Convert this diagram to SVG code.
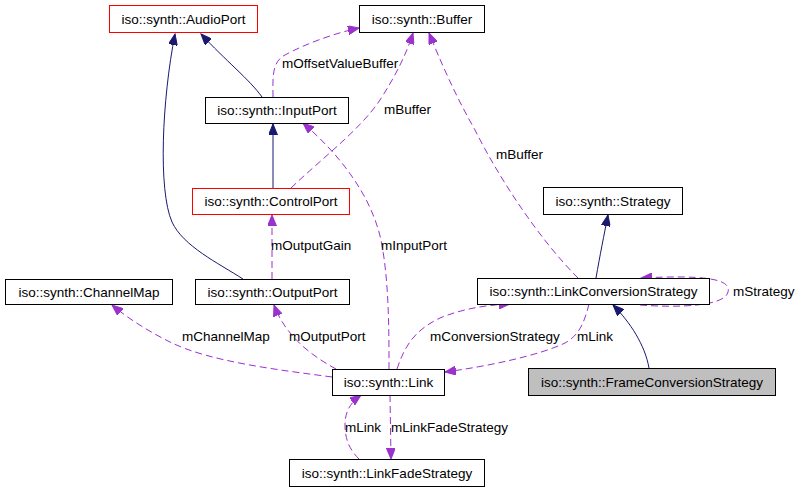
<svg xmlns="http://www.w3.org/2000/svg" width="801" height="491" viewBox="0 0 801 491">
<style>
text{font-family:"Liberation Sans",Arial,sans-serif;font-size:13.5px;fill:#000}
.n text{text-anchor:middle}
.box{fill:#fff;stroke:#000;stroke-width:1}
.red{stroke:#ff0000}
.gray{fill:#bfbfbf}
.inh{fill:none;stroke:#191970;stroke-width:1}
.use{fill:none;stroke:#9a32cd;stroke-width:1;stroke-dasharray:7,4}
</style>
<defs>
<marker id="an" markerUnits="userSpaceOnUse" markerWidth="12" markerHeight="9" refX="11" refY="4.5" orient="auto" viewBox="0 0 12 9">
<path d="M0,0 L11,4.5 L0,9 z" fill="#191970" stroke="#191970"/>
</marker>
<marker id="ap" markerUnits="userSpaceOnUse" markerWidth="12" markerHeight="9" refX="11" refY="4.5" orient="auto" viewBox="0 0 12 9">
<path d="M0,0 L11,4.5 L0,9 z" fill="#9a32cd" stroke="#9a32cd"/>
</marker>
</defs>
<rect width="801" height="491" fill="#fff"/>
<g id="edges">
<path class="inh" d="M262,97 C250,80 225,60 201,34" marker-end="url(#an)"/>
<path class="inh" d="M243,279 C218,263 183,246 172,222 C158,190 162,100 175,34" marker-end="url(#an)"/>
<path class="inh" d="M273,188 L273,124" marker-end="url(#an)"/>
<path class="inh" d="M596,278 C600,255 604,235 608,215" marker-end="url(#an)"/>
<path class="inh" d="M649,368 C645,345 630,322 613,305" marker-end="url(#an)"/>
<path class="use" d="M273,97 C273,80 271,62 285,55 C305,44 335,33 359,28" marker-end="url(#ap)"/>
<path class="use" d="M291,188 C320,160 360,130 380,100 C396,75 406,55 413,33" marker-end="url(#ap)"/>
<path class="use" d="M578,278 C540,240 500,180 475,130 C455,95 440,60 429,33" marker-end="url(#ap)"/>
<path class="use" d="M389,369 C389,330 389,280 381,240 C371,195 340,155 303,123" marker-end="url(#ap)"/>
<path class="use" d="M272,279 L272,215" marker-end="url(#ap)"/>
<path class="use" d="M336,369 C310,355 285,335 274,305" marker-end="url(#ap)"/>
<path class="use" d="M332,377 C280,370 210,362 170,342 C150,332 130,320 112,305" marker-end="url(#ap)"/>
<path class="use" d="M397,369 C405,345 415,330 440,318 C462,309 485,305 510,304" marker-end="url(#ap)"/>
<path class="use" d="M589,304 C585,320 580,335 565,343 C540,355 490,366 445,372" marker-end="url(#ap)"/>
<path class="use" d="M640,305 C680,308 725,306 728,292 C732,278 700,275 641,278" marker-end="url(#ap)"/>
<path class="use" d="M390,395 L391,459" marker-end="url(#ap)"/>
<path class="use" d="M359,459 C350,450 345,440 345,425 C345,412 350,403 361,395" marker-end="url(#ap)"/>
<text x="282" y="68">mOffsetValueBuffer</text>
<text x="384" y="114">mBuffer</text>
<text x="496" y="159">mBuffer</text>
<text x="381" y="250">mInputPort</text>
<text x="271" y="250">mOutputGain</text>
<text x="182" y="341">mChannelMap</text>
<text x="289" y="341">mOutputPort</text>
<text x="430" y="341">mConversionStrategy</text>
<text x="577" y="341">mLink</text>
<text x="733" y="296">mStrategy</text>
<text x="345" y="432">mLink</text>
<text x="391" y="432">mLinkFadeStrategy</text>
</g>
<g id="AudioPort" class="n"><rect class="box red" x="109.5" y="5.5" width="148" height="27"/><text x="183.5" y="23.5">iso::synth::AudioPort</text></g>
<g id="Buffer" class="n"><rect class="box" x="359.5" y="5.5" width="125" height="27"/><text x="422" y="23.5">iso::synth::Buffer</text></g>
<g id="InputPort" class="n"><rect class="box" x="205.5" y="97.5" width="143" height="26"/><text x="277" y="115">iso::synth::InputPort</text></g>
<g id="ControlPort" class="n"><rect class="box red" x="192.5" y="188.5" width="157" height="26"/><text x="271" y="206">iso::synth::ControlPort</text></g>
<g id="OutputPort" class="n"><rect class="box" x="195.5" y="279.5" width="154" height="25"/><text x="272.5" y="296.5">iso::synth::OutputPort</text></g>
<g id="ChannelMap" class="n"><rect class="box" x="5.5" y="279.5" width="167" height="25"/><text x="89" y="296.5">iso::synth::ChannelMap</text></g>
<g id="Strategy" class="n"><rect class="box" x="543.5" y="187.5" width="139" height="27"/><text x="613" y="205.5">iso::synth::Strategy</text></g>
<g id="LinkConversionStrategy" class="n"><rect class="box" x="477.5" y="278.5" width="232" height="26"/><text x="593.5" y="296">iso::synth::LinkConversionStrategy</text></g>
<g id="FrameConversionStrategy" class="n"><rect class="box gray" x="528.5" y="368.5" width="247" height="27"/><text x="652" y="386.5">iso::synth::FrameConversionStrategy</text></g>
<g id="Link" class="n"><rect class="box" x="332.5" y="369.5" width="112" height="26"/><text x="388.5" y="387">iso::synth::Link</text></g>
<g id="LinkFadeStrategy" class="n"><rect class="box" x="289.5" y="459.5" width="195" height="27"/><text x="387" y="477.5">iso::synth::LinkFadeStrategy</text></g>
</svg>
